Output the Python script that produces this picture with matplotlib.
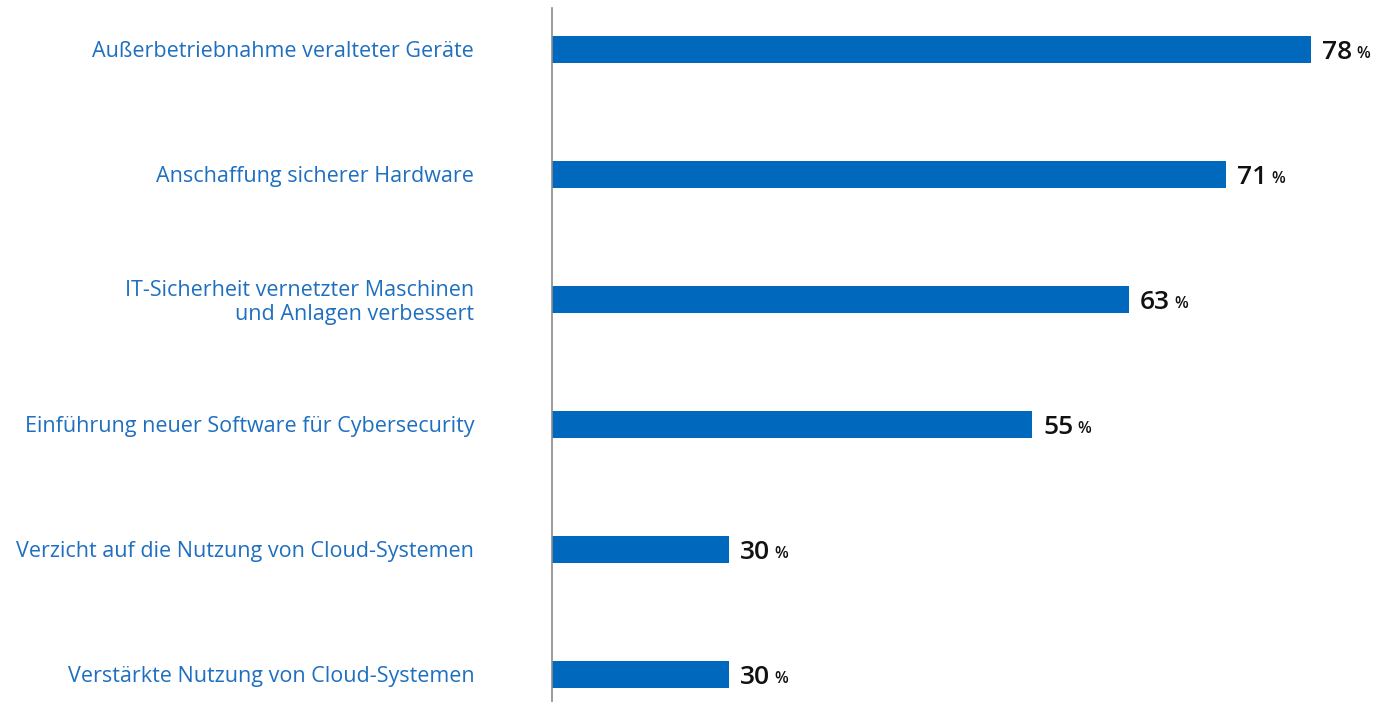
import matplotlib
matplotlib.use("Agg")
import matplotlib.pyplot as plt
from matplotlib.transforms import offset_copy

categories = [
    "Außerbetriebnahme veralteter Geräte",
    "Anschaffung sicherer Hardware",
    "IT-Sicherheit vernetzter Maschinen\nund Anlagen verbessert",
    "Einführung neuer Software für Cybersecurity",
    "Verzicht auf die Nutzung von Cloud-Systemen",
    "Verstärkte Nutzung von Cloud-Systemen",
]
values = [78, 71, 63, 55, 30, 30]

BAR = "#0068bd"
LABEL = "#1f6fc0"

W, H = 1375, 702
fig = plt.figure(figsize=(W / 100, H / 100), dpi=100)
ax = fig.add_axes([552 / W, 0, 1 - 552 / W, 1 - 8 / H])

ypos = list(range(len(categories)))
ax.barh(ypos, values, height=0.216, color=BAR, zorder=2)

ax.set_xlim(15.42, 83.3)
ax.set_ylim(5.224, -0.328)

for s in ["top", "right", "bottom"]:
    ax.spines[s].set_visible(False)
ax.spines["left"].set_color("#8a8a8a")
ax.spines["left"].set_linewidth(1.2)
ax.spines["left"].set_zorder(3)
ax.set_xticks([])
ax.set_yticks(ypos)
ax.set_yticklabels(categories, fontsize=15.5, color=LABEL, family="Open Sans",
                   ha="right", linespacing=1.15)
ax.tick_params(axis="y", length=0, pad=56)

nums = []
for y, v in zip(ypos, values):
    t = ax.annotate(f"{v}", xy=(v, y), xytext=(8, -7.2), textcoords="offset points",
                    va="baseline", ha="left", fontsize=19, color="#111111",
                    family="Open Sans", fontweight="semibold")
    nums.append((t, v, y))

fig.canvas.draw()
r = fig.canvas.get_renderer()
for t, v, y in nums:
    ext = t.get_window_extent(r)
    x0 = ax.transData.transform((v, y))[0]
    dx_pt = (ext.x1 - x0) * 72 / fig.dpi + 3
    ax.annotate("%", xy=(v, y), xytext=(dx_pt, -6.5), textcoords="offset points",
                va="baseline", ha="left", fontsize=11.5, color="#111111",
                family="Open Sans", fontweight="semibold")

fig.savefig("out.png", dpi=100)
